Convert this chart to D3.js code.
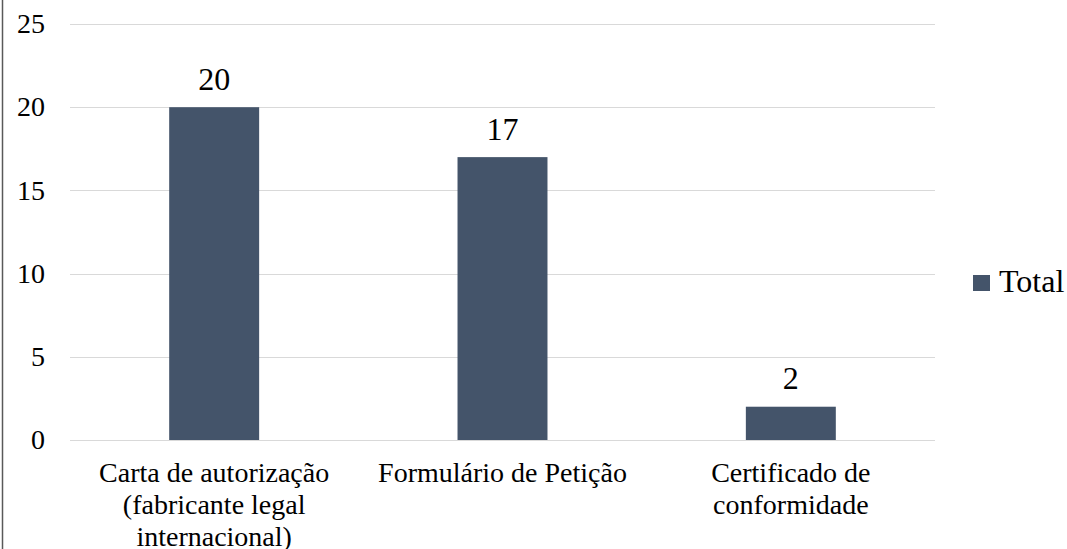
<!DOCTYPE html>
<meta charset="utf-8">
<style>
    body { margin: 0; background: #fff; }
    svg { display: block; }
    text { font-family: "Liberation Serif", "Times New Roman", "DejaVu Serif", serif; fill: #000; }
    .grid line { stroke: #d9d9d9; stroke-width: 1px; }
    .tick-label { font-size: 28px; }
    .cat-label { font-size: 28px; }
    .val-label { font-size: 32px; }
</style>
<script src="https://cdn.jsdelivr.net/npm/d3@7"></script>
<svg width="1067" height="549"></svg>
<script>
    // dados
    var categorias = [
        ["Carta de autorização", "(fabricante legal", "internacional)"],
        ["Formulário de Petição"],
        ["Certificado de", "conformidade"]
    ];
    var valores = [20, 17, 2];
    var ticks = [0, 5, 10, 15, 20, 25];
    var serie = "Total";

    var svg = d3.select("svg");
    var cor = "#44546a";

    // borda esquerda da área do gráfico
    svg.append("line")
        .attr("x1", 2.5).attr("x2", 2.5)
        .attr("y1", 0).attr("y2", 549)
        .attr("stroke", "#595959").attr("stroke-width", 1.5);

    var x = d3.scaleBand()
        .domain(d3.range(valores.length))
        .range([70, 935])
        .paddingInner(0.688)
        .paddingOuter(0.344);

    var y = d3.scaleLinear()
        .domain([0, 25])
        .range([440, 24]);

    var g = svg.append("g");

    g.append("g").attr("class", "grid")
        .selectAll("line")
        .data(ticks)
        .enter().append("line")
        .attr("x1", 70).attr("x2", 935)
        .attr("y1", function (d) { return Math.round(y(d)) + 0.5; })
        .attr("y2", function (d) { return Math.round(y(d)) + 0.5; });

    g.selectAll(".tick-label")
        .data(ticks)
        .enter().append("text")
        .attr("class", "tick-label")
        .attr("x", 45)
        .attr("y", function (d) { return y(d); })
        .attr("dy", "0.33em")
        .attr("text-anchor", "end")
        .text(function (d) { return d; });

    g.selectAll(".bar")
        .data(valores)
        .enter().append("rect")
        .attr("class", "bar")
        .attr("x", function (d, i) { return x(i); })
        .attr("width", x.bandwidth())
        .attr("y", function (d) { return y(d); })
        .attr("height", function (d) { return y(0) - y(d); })
        .attr("fill", cor);

    g.selectAll(".val-label")
        .data(valores)
        .enter().append("text")
        .attr("class", "val-label")
        .attr("x", function (d, i) { return x(i) + x.bandwidth() / 2; })
        .attr("y", function (d) { return y(d) - 17.5; })
        .attr("text-anchor", "middle")
        .text(function (d) { return d; });

    var cat = g.selectAll(".cat-label")
        .data(categorias)
        .enter().append("text")
        .attr("class", "cat-label")
        .attr("text-anchor", "middle")
        .attr("x", function (d, i) { return x(i) + x.bandwidth() / 2; })
        .attr("y", 482);

    cat.selectAll("tspan")
        .data(function (d) { return d; })
        .enter().append("tspan")
        .attr("x", function () { return d3.select(this.parentNode).attr("x"); })
        .attr("dy", function (d, i) { return i === 0 ? 0 : 32; })
        .text(function (d) { return d; });

    // legenda
    var leg = svg.append("g").attr("transform", "translate(973,275)");
    leg.append("rect").attr("width", 17).attr("height", 16).attr("fill", cor);
    leg.append("text")
        .attr("x", 26).attr("y", 16.5)
        .attr("font-size", 32)
        .text(serie);
</script>
